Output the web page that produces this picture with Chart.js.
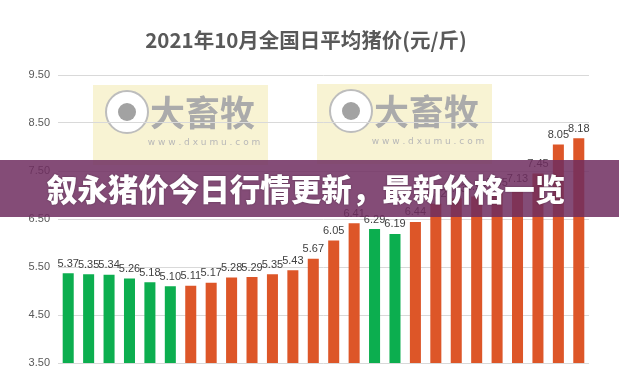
<!DOCTYPE html>
<html>
<head>
<meta charset="utf-8">
<script src="https://cdn.jsdelivr.net/npm/chart.js@4"></script>
<style>
  html, body { margin: 0; padding: 0; background: #fff; }
  #wrap { width: 619px; height: 378px; }
</style>
</head>
<body>
<div id="wrap"><canvas id="myChart"></canvas></div>
<script>
// 2021年10月 全国日平均猪价 (元/斤), 每天一根柱
const days = ['10-08', '10-09', '10-10', '10-11', '10-12', '10-13', '10-14', '10-15', '10-16',
    '10-17', '10-18', '10-19', '10-20', '10-21', '10-22', '10-23', '10-24', '10-25', '10-26',
    '10-27', '10-28', '10-29', '10-30', '10-31', '11-01', '11-02'];
const prices = [5.37, 5.35, 5.34, 5.26, 5.18, 5.10, 5.11, 5.17, 5.28, 5.29, 5.35, 5.43, 5.67,
    6.05, 6.41, 6.29, 6.19, 6.44, 6.82, 6.93, 6.97, 7.05, 7.13, 7.45, 8.05, 8.18];
const yTicks = [3.5, 4.5, 5.5, 6.5, 7.5, 8.5, 9.5];

const chartTitle = '2021年10月全国日平均猪价(元/斤)';
const bannerText = '叙永猪价今日行情更新，最新价格一览';

const GREEN = '#0cae4f';
const ORANGE = '#dd5628';

// groen = gedaald, oranje = gestegen
const barColors = prices.map((v, i) => (i === 0 || v < prices[i - 1]) ? GREEN : ORANGE);

const cjk = '"Noto Sans CJK SC", "Noto Sans", sans-serif';

function drawWatermark(ctx, x, y) {
    ctx.save();
    ctx.fillStyle = '#f8f3d3';
    ctx.fillRect(x, y, 175, 80);
    // oog-logo
    ctx.beginPath();
    ctx.arc(x + 34, y + 27, 21, 0, Math.PI * 2);
    ctx.fillStyle = '#ffffff';
    ctx.fill();
    ctx.lineWidth = 2;
    ctx.strokeStyle = '#bdbdbd';
    ctx.stroke();
    ctx.beginPath();
    ctx.arc(x + 34, y + 27, 9, 0, Math.PI * 2);
    ctx.fillStyle = '#a2a2a2';
    ctx.fill();
    ctx.fillStyle = '#ababab';
    ctx.font = 'bold 35px ' + cjk;
    ctx.textAlign = 'left';
    ctx.textBaseline = 'middle';
    ctx.fillText('大畜牧', x + 57, y + 28);
    ctx.fillStyle = '#b8b8b8';
    ctx.font = '9px "DejaVu Sans", sans-serif';
    ctx.textAlign = 'center';
    ctx.fillText('w w w . d x u m u . c o m', x + 111, y + 58);
    ctx.restore();
}

const decorPlugin = {
    id: 'decor',
    beforeDraw(chart) {
        const ctx = chart.ctx;
        ctx.save();
        ctx.fillStyle = '#ffffff';
        ctx.fillRect(0, 0, chart.width, chart.height);
        ctx.restore();
        drawWatermark(ctx, 93, 85);
        drawWatermark(ctx, 317, 84);

        ctx.save();
        ctx.fillStyle = '#595959';
        ctx.font = 'bold 20.5px ' + cjk;
        ctx.textAlign = 'center';
        ctx.textBaseline = 'middle';
        ctx.fillText(chartTitle, 306, 40);
        ctx.restore();
    },
    afterDatasetsDraw(chart) {
        const ctx = chart.ctx;
        const meta = chart.getDatasetMeta(0);
        ctx.save();
        ctx.fillStyle = '#404040';
        ctx.font = '11px "Liberation Sans", Arial, sans-serif';
        ctx.textAlign = 'center';
        ctx.textBaseline = 'bottom';
        meta.data.forEach((bar, i) => {
            ctx.fillText(prices[i].toFixed(2), bar.x, bar.y - 4);
        });
        ctx.restore();
    },
    afterDraw(chart) {
        const ctx = chart.ctx;
        ctx.save();
        ctx.fillStyle = 'rgba(110, 45, 95, 0.85)';
        ctx.fillRect(0, 160, chart.width, 57);
        ctx.fillStyle = '#ffffff';
        ctx.font = '900 30.5px ' + cjk;
        ctx.textAlign = 'center';
        ctx.textBaseline = 'middle';
        ctx.shadowColor = 'rgba(0,0,0,0.35)';
        ctx.shadowBlur = 2;
        ctx.fillText(bannerText, 306, 189);
        ctx.restore();
    }
};

const renderChart = () => {
    const ctx = document.getElementById('myChart').getContext('2d');

    new Chart(ctx, {
        type: 'bar',
        data: {
            labels: days,
            datasets: [{
                data: prices,
                backgroundColor: barColors,
                barPercentage: 0.54,
                categoryPercentage: 1
            }]
        },
        options: {
            responsive: true,
            maintainAspectRatio: false,
            animation: false,
            layout: { padding: { top: 75, right: 30, bottom: 15, left: 0 } },
            plugins: {
                legend: { display: false },
                tooltip: { enabled: false },
                title: { display: false }
            },
            scales: {
                x: {
                    display: false
                },
                y: {
                    min: 3.5,
                    max: 9.5,
                    afterFit: s => { s.width = 58; },
                    afterBuildTicks: s => { s.ticks = yTicks.map(v => ({ value: v })); },
                    border: { display: false },
                    grid: { color: '#d9d9d9', drawTicks: false },
                    ticks: {
                        padding: 8,
                        color: '#595959',
                        font: { size: 11, family: '"Liberation Sans", Arial, sans-serif' },
                        callback: v => Number(v).toFixed(2)
                    }
                }
            }
        },
        plugins: [decorPlugin]
    });
};

document.addEventListener('DOMContentLoaded', renderChart);
</script>
</body>
</html>
